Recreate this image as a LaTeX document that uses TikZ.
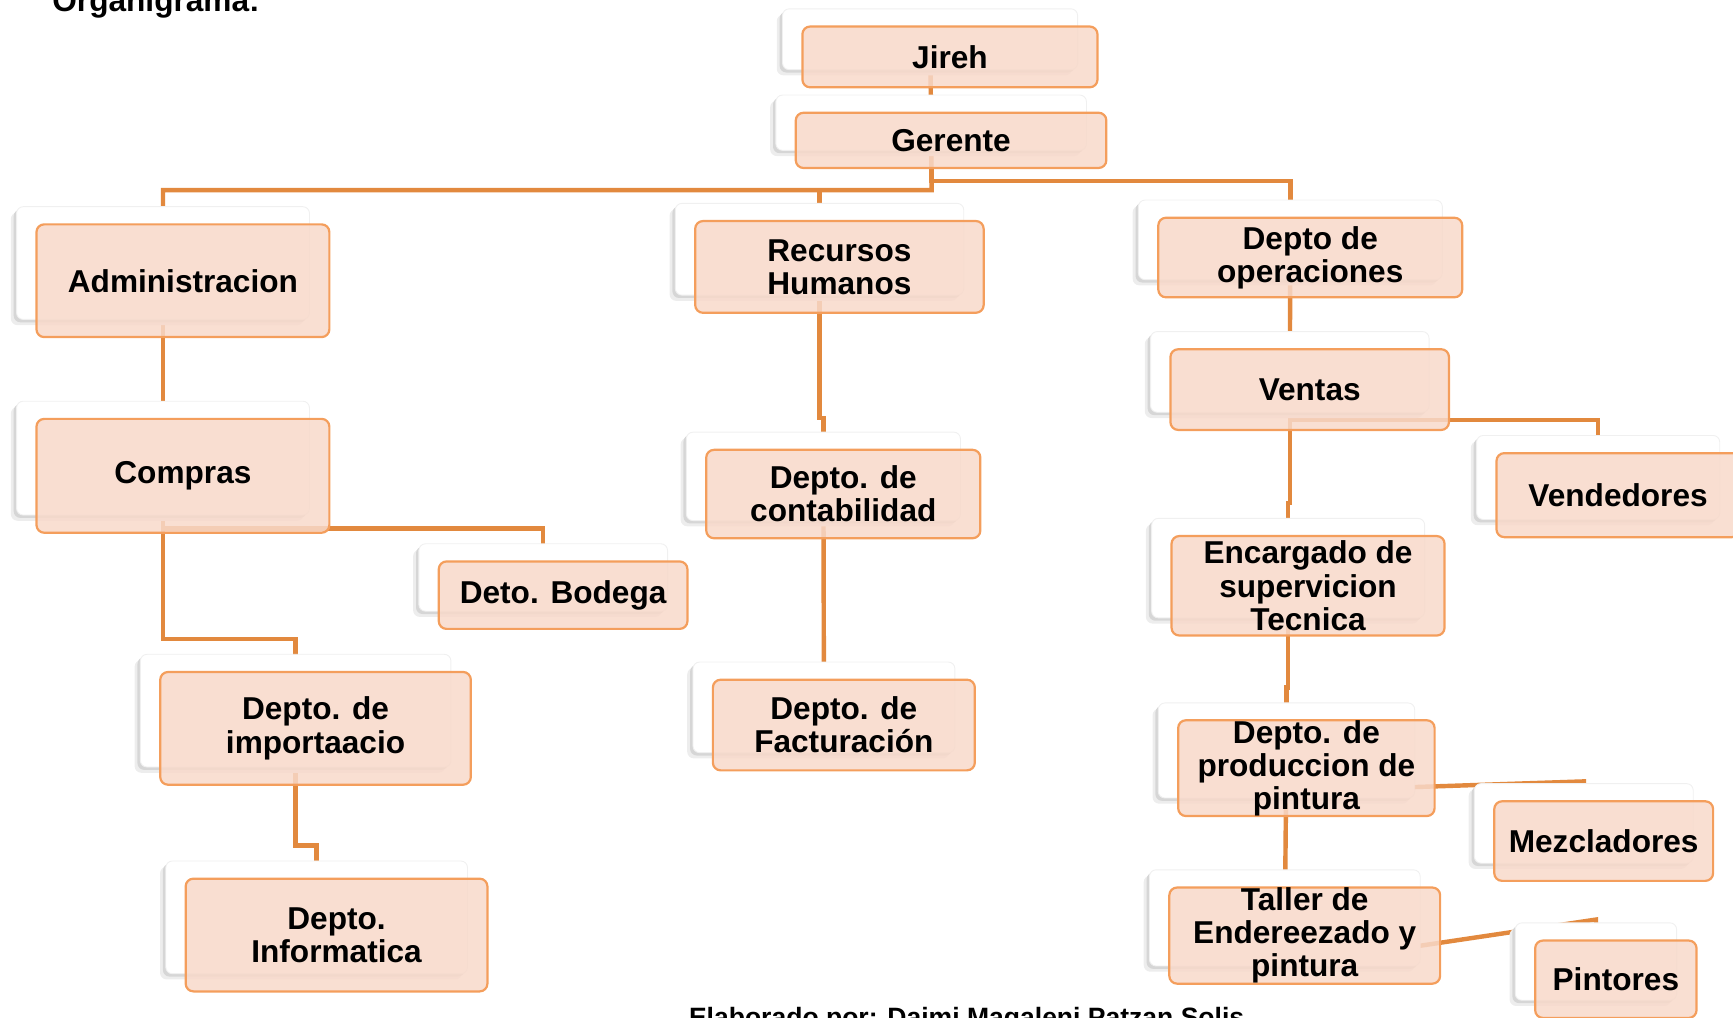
\documentclass[tikz,border=0pt]{standalone}
\usepackage{fontspec}
\setmainfont{Liberation Sans}
\usetikzlibrary{shadows}
\pgfdeclarelayer{background}
\pgfsetlayers{background,main}
\definecolor{boxfill}{RGB}{248,217,202}
\definecolor{boxline}{RGB}{244,158,92}
\definecolor{connc}{RGB}{226,137,62}
\tikzset{
  backbox/.style={rectangle, rounded corners=3pt, fill=white, draw=gray!12, line width=0.4pt, inner sep=0pt,
    general shadow={fill=gray!14, shadow xshift=-2.6pt, shadow yshift=-2.6pt},
    general shadow={fill=gray!32, shadow xshift=-1.3pt, shadow yshift=-1.3pt}},
  mainbox/.style={rectangle, rounded corners=3.5pt, fill=boxfill, fill opacity=0.85, text opacity=1,
    draw=boxline, draw opacity=1, line width=1pt, inner sep=0pt, align=center,
    font=\fontsize{14.3}{15}\selectfont\bfseries},
  conn/.style={draw=connc, line width=2pt},
  titletext/.style={inner sep=0pt, font=\fontsize{14.3}{15}\selectfont\bfseries},
  foottext/.style={inner sep=0pt, font=\fontsize{12}{13}\selectfont\bfseries}
}
% name, x1, y1, x2, y2 (main box, in picture pixels), text
\newcommand\orgbox[6]{%
  \node[backbox, minimum width={(#4-#2)*0.5pt}, minimum height={(#5-#3)*0.5pt}]
    (#1B) at ({(#2+#4)/2-18},{(#3+#5)/2-16}) {};
  \node[mainbox, minimum width={(#4-#2)*0.5pt}, minimum height={(#5-#3)*0.5pt}]
    (#1) at ({(#2+#4)/2},{(#3+#5)/2}) {#6};
}
\begin{document}
\begin{tikzpicture}[x=0.5pt,y=-0.5pt]
\useasboundingbox (0,0) rectangle (1568,921);

\node[titletext, anchor=base west] (title) at (47,10) {Organigrama:};
\node[foottext, anchor=base west] (foot) at (623,929) {Elaborado por: Daimi Magaleni Patzan Solis};

\orgbox{jireh}{726}{24}{993}{79}{Jireh}
\orgbox{gerente}{720}{102}{1001}{152}{Gerente}
\orgbox{admin}{33}{203}{298}{305}{Administracion}
\orgbox{compras}{33}{379}{298}{482}{Compras}
\orgbox{bodega}{397}{508}{622}{569}{Deto. Bodega}
\orgbox{import}{145}{608}{426}{710}{Depto. de\\importaacio}
\orgbox{info}{168}{795}{441}{897}{Depto.\\Informatica}
\orgbox{rrhh}{629}{200}{890}{283}{Recursos\\Humanos}
\orgbox{conta}{639}{407}{887}{487}{Depto. de\\contabilidad}
\orgbox{fact}{645}{615}{882}{697}{Depto. de\\Facturación}
\orgbox{oper}{1048}{197}{1323}{269}{Depto de\\operaciones}
\orgbox{ventas}{1059}{316}{1311}{389}{Ventas}
\orgbox{vend}{1354}{410}{1574}{486}{Vendedores}
\orgbox{enc}{1060}{485}{1307}{575}{Encargado de\\supervicion\\Tecnica}
\orgbox{prod}{1066}{652}{1298}{738}{Depto. de\\produccion de\\pintura}
\orgbox{mez}{1352}{725}{1550}{797}{Mezcladores}
\orgbox{taller}{1058}{803}{1303}{890}{Taller de\\Endereezado y\\pintura}
\orgbox{pint}{1389}{851}{1535}{921}{Pintores}

\coordinate (gl) at (843,172);
\coordinate (gr) at (1000,164);
\coordinate (cb) at (300,478);
\coordinate (ci) at (200,578);
\coordinate (ii) at (276,765);
\coordinate (rc) at (743,378);
\coordinate (vv) at (1300,380);
\coordinate (ve) at (1166,455);
\coordinate (ep) at (1165,622);
\coordinate (pm0) at (1164,716);
\coordinate (pm) at (1433,707);
\coordinate (tp0) at (1162,874);
\coordinate (tp) at (1444,832);

\begin{pgfonlayer}{background}
\draw[conn] (jirehB.center) -- (gerenteB.center);
\draw[conn] (gerenteB.center) -- (gl) -| (adminB.center);
\draw[conn] (gl) -| (rrhhB.center);
\draw[conn] (gerenteB.center) |- (gr) -| (operB.center);
\draw[conn] (adminB.center) -- (comprasB.center);
\draw[conn] (comprasB.center) |- (cb) -| (bodegaB.center);
\draw[conn] (comprasB.center) |- (ci) -| (importB.center);
\draw[conn] (importB.center) |- (ii) -| (infoB.center);
\draw[conn] (rrhhB.center) |- (rc) -| (contaB.center);
\draw[conn] (contaB.center) -- (factB.center);
\draw[conn] (operB.center) -- (ventasB.center);
\draw[conn] (ventasB.center) |- (vv) -| (vendB.center);
\draw[conn] (ventasB.center) |- (ve) -| (encB.center);
\draw[conn] (encB.center) |- (ep) -| (prodB.center);
\draw[conn] (prodB.center) -- (tallerB.center);
\draw[conn] (prodB.center) -- (pm0) -- (pm) -- (mezB.center);
\draw[conn] (tallerB.center) -- (tp0) -- (tp) -- (pintB.center);
\end{pgfonlayer}
\end{tikzpicture}
\end{document}
